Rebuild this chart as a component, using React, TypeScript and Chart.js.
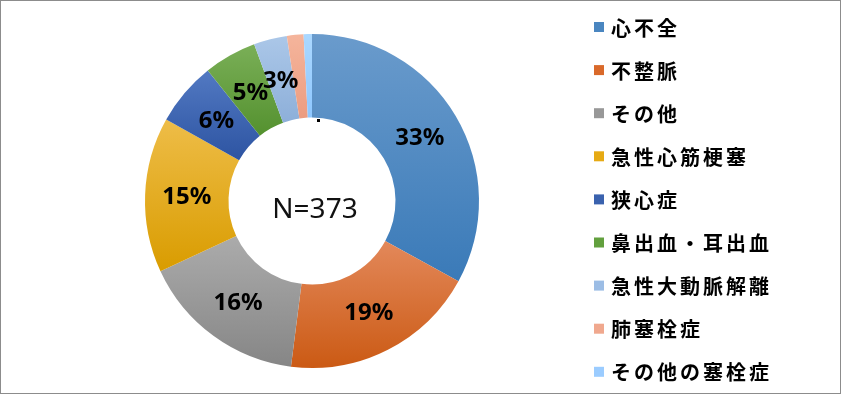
import React, { useEffect, useRef } from "react";
import { Chart, registerables } from "chart.js";

Chart.register(...registerables);

const categories = [
  "心不全",
  "不整脈",
  "その他",
  "急性心筋梗塞",
  "狭心症",
  "鼻出血・耳出血",
  "急性大動脈解離",
  "肺塞栓症",
  "その他の塞栓症",
];
const counts = [123, 71, 60, 56, 23, 19, 12, 6, 3];
const totalLabel = "N=373";

const topColors = ["#6A9BCC", "#E3885A", "#ABABAB", "#EEBD48", "#5279C2", "#7AAF57", "#ABC7E8", "#F5B59C", "#ABD8FF"];
const bottomColors = ["#3A7AB8", "#CB5A14", "#868686", "#D99C00", "#2D54A2", "#54912F", "#8DAFD9", "#EC9C80", "#8EC7FF"];
const legendColors = ["#4A86C0", "#D9692A", "#989898", "#E6AA14", "#3A62AE", "#62A03E", "#9CBDE5", "#F0A88E", "#9BCCFF"];

const gradientPlugin = {
  id: "sliceGradient",
  beforeDatasetsDraw(chart: any) {
    const ctx = chart.ctx;
    const meta = chart.getDatasetMeta(0);
    meta.data.forEach((arc: any, i: number) => {
      const { y, startAngle, endAngle, innerRadius, outerRadius } = arc.getProps(
        ["x", "y", "startAngle", "endAngle", "innerRadius", "outerRadius"],
        true
      );
      let minY = Infinity;
      let maxY = -Infinity;
      const steps = 60;
      for (let s = 0; s <= steps; s++) {
        const a = startAngle + ((endAngle - startAngle) * s) / steps;
        for (const r of [innerRadius, outerRadius]) {
          const py = y + Math.sin(a) * r;
          minY = Math.min(minY, py);
          maxY = Math.max(maxY, py);
        }
      }
      const g = ctx.createLinearGradient(0, minY, 0, maxY);
      g.addColorStop(0, topColors[i]);
      g.addColorStop(1, bottomColors[i]);
      arc.options.backgroundColor = g;
    });
  },
};

const labelPlugin = {
  id: "labelsAndLegend",
  afterDatasetsDraw(chart: any) {
    const ctx = chart.ctx;
    const meta = chart.getDatasetMeta(0);
    const data: number[] = chart.data.datasets[0].data;
    const total = data.reduce((a, b) => a + b, 0);
    ctx.save();
    ctx.fillStyle = "#000";
    ctx.textAlign = "center";
    ctx.textBaseline = "middle";
    ctx.font = "bold 24px 'Noto Sans', sans-serif";
    meta.data.forEach((arc: any, i: number) => {
      const pct = Math.round((data[i] / total) * 100);
      if (pct < 3) return;
      const p = arc.tooltipPosition(true);
      ctx.fillText(pct + "%", p.x, p.y + 1);
    });
    const a0 = meta.data[0];
    const cx = a0.x;
    const cy = a0.y;
    ctx.fillRect(cx + 5, cy - 82, 3, 3);
    ctx.font = "28px 'Noto Sans', sans-serif";
    ctx.fillStyle = "#111";
    ctx.fillText(totalLabel, cx + 3, cy + 9);

    // legend
    const lx = chart.chartArea.right + 115;
    ctx.textAlign = "left";
    ctx.font = "bold 20px 'Noto Sans CJK JP', sans-serif";
    try {
      (ctx as any).letterSpacing = "3px";
    } catch (e) {}
    chart.data.labels.forEach((lab: string, i: number) => {
      const yy = 26 + i * 43.1;
      ctx.fillStyle = legendColors[i];
      ctx.fillRect(lx, yy - 5, 10, 10);
      ctx.fillStyle = "#000";
      ctx.fillText(lab, lx + 17, yy + 1);
    });
    try {
      (ctx as any).letterSpacing = "0px";
    } catch (e) {}
    ctx.restore();
  },
};

export default function App() {
  const ref = useRef<HTMLCanvasElement | null>(null);
  useEffect(() => {
    document.body.style.margin = "0";
    const canvas = ref.current;
    if (!canvas) return;
    const chart = new Chart(canvas, {
      type: "doughnut",
      data: {
        labels: categories,
        datasets: [
          {
            data: counts,
            backgroundColor: legendColors.slice(),
            borderWidth: 0,
          },
        ],
      },
      options: {
        animation: false,
        responsive: false,
        cutout: "50%",
        layout: { padding: { left: 144, right: 361, top: 33, bottom: 25 } },
        plugins: {
          legend: { display: false },
          tooltip: { enabled: false },
        },
      },
      plugins: [gradientPlugin, labelPlugin],
    });
    return () => chart.destroy();
  }, []);
  return (
    <div
      style={{
        width: 841,
        height: 394,
        boxSizing: "border-box",
        border: "1px solid #8c8c8c",
        background: "#fff",
        overflow: "hidden",
      }}
    >
      <canvas ref={ref} width={839} height={392} style={{ display: "block", width: 839, height: 392 }} />
    </div>
  );
}
